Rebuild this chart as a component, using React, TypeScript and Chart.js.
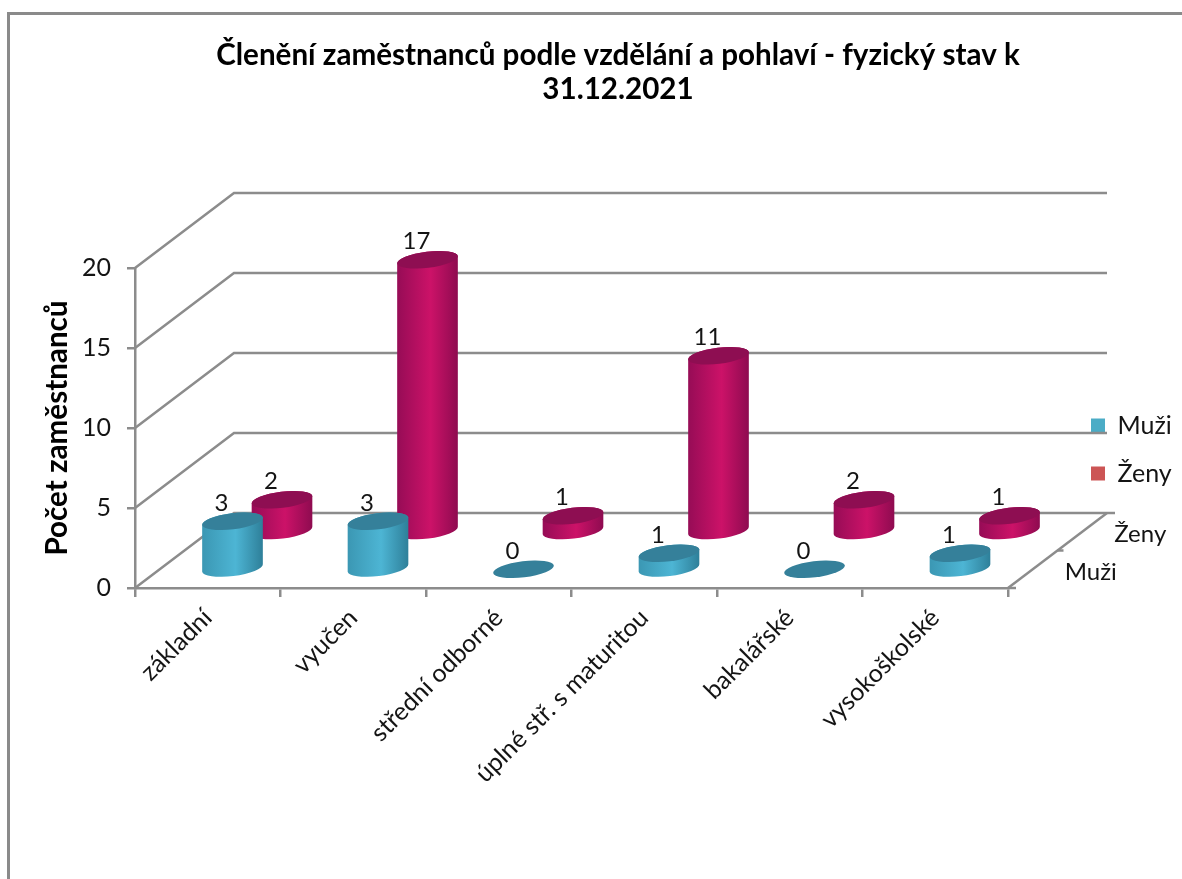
import React, { useEffect, useRef } from "react";
import { Chart, registerables } from "chart.js";

Chart.register(...registerables);

const titleLines = ["Členění zaměstnanců podle vzdělání a pohlaví - fyzický stav k", "31.12.2021"];
const yAxisTitle = "Počet zaměstnanců";
const categories = ["základní", "vyučen", "střední odborné", "úplné stř. s maturitou", "bakalářské", "vysokoškolské"];
const muzi = [3, 3, 0, 1, 0, 1];
const zeny = [2, 17, 1, 11, 2, 1];
const seriesNames = ["Muži", "Ženy"];
const legendColors = ["#4BACC6", "#CC5555"];
const sideColors = [
  ["#3B97B3", "#4DB5D4", "#2E7F99"],
  ["#960C56", "#CC1268", "#8E0B50"],
];
const topColors = ["#35809A", "#8E0E52"];
const depthFractions = [0.25, 0.75];

const GRID = "#8C8C8C";
const TEXT = "#141414";
const FONT = "Lato, Carlito, sans-serif";
const DEPTH_X = 99;
const DEPTH_Y = 75;
const RY = 8;
const TILT = (-7 * Math.PI) / 180;

function line(ctx: CanvasRenderingContext2D, pts: number[][]) {
  ctx.beginPath();
  pts.forEach((p, i) => (i ? ctx.lineTo(p[0], p[1]) : ctx.moveTo(p[0], p[1])));
  ctx.stroke();
}

const wallsPlugin = {
  id: "walls",
  beforeDatasetsDraw(chart: any) {
    const { ctx, chartArea: a, scales } = chart;
    ctx.save();
    ctx.strokeStyle = GRID;
    ctx.lineWidth = 2.5;
    scales.y.ticks.forEach((t: any) => {
      const y = scales.y.getPixelForValue(t.value);
      line(ctx, [
        [a.left, y],
        [a.left + DEPTH_X, y - DEPTH_Y],
        [a.right + DEPTH_X, y - DEPTH_Y],
      ]);
    });
    line(ctx, [
      [a.right, a.bottom],
      [a.right + DEPTH_X, a.bottom - DEPTH_Y],
    ]);
    // depth axis ticks
    line(ctx, [[a.right, a.bottom], [a.right + 8, a.bottom]]);
    line(ctx, [[a.right + DEPTH_X / 2, a.bottom - DEPTH_Y / 2], [a.right + DEPTH_X / 2 + 6, a.bottom - DEPTH_Y / 2]]);
    line(ctx, [[a.right + DEPTH_X, a.bottom - DEPTH_Y], [a.right + DEPTH_X + 8, a.bottom - DEPTH_Y]]);
    // depth axis labels
    ctx.fillStyle = TEXT;
    ctx.font = `24px ${FONT}`;
    ctx.textAlign = "left";
    ctx.textBaseline = "middle";
    seriesNames.forEach((name, i) => {
      ctx.fillText(name, a.right + DEPTH_X * depthFractions[i] + 32, a.bottom - DEPTH_Y * depthFractions[i] + 3);
    });
    ctx.restore();
  },
};

function cylinder(ctx: CanvasRenderingContext2D, cx: number, top: number, base: number, rx: number, i: number) {
  if (base - top > 0.5) {
    const g = ctx.createLinearGradient(cx - rx, 0, cx + rx, 0);
    g.addColorStop(0, sideColors[i][0]);
    g.addColorStop(0.55, sideColors[i][1]);
    g.addColorStop(1, sideColors[i][2]);
    ctx.fillStyle = g;
    ctx.beginPath();
    ctx.ellipse(cx, base, rx, RY, TILT, 0, Math.PI);
    ctx.ellipse(cx, top, rx, RY, TILT, Math.PI, 2 * Math.PI);
    ctx.closePath();
    ctx.fill();
  }
  ctx.fillStyle = topColors[i];
  ctx.beginPath();
  ctx.ellipse(cx, top, rx, RY, TILT, 0, 2 * Math.PI);
  ctx.fill();
}

const cylinderPlugin = {
  id: "cylinders",
  afterDatasetsDraw(chart: any) {
    const { ctx } = chart;
    ctx.save();
    [1, 0].forEach((i) => {
      const dx = DEPTH_X * depthFractions[i];
      const dy = DEPTH_Y * depthFractions[i];
      const values = chart.data.datasets[i].data as number[];
      chart.getDatasetMeta(i).data.forEach((el: any, k: number) => {
        const cx = el.x + dx;
        const top = el.y - dy;
        cylinder(ctx, cx, top, el.base - dy, el.width / 2, i);
        ctx.fillStyle = TEXT;
        ctx.font = `24px ${FONT}`;
        ctx.textAlign = "center";
        ctx.textBaseline = "middle";
        ctx.fillText(String(values[k]), cx - 11, top - 18);
      });
    });
    ctx.restore();
  },
};

const pinPlugin = {
  id: "pin",
  afterLayout(chart: any) {
    if (chart.titleBlock) {
      chart.titleBlock.left = 54;
      chart.titleBlock.right = 1182;
    }
    if (chart.legend) {
      chart.legend.left = 1068;
      chart.legend.right = 1182;
      chart.legend.top = 390;
      chart.legend.bottom = 620;
    }
  },
};

export default function App() {
  const ref = useRef<HTMLCanvasElement>(null);
  useEffect(() => {
    const chart = new Chart(ref.current!, {
      type: "bar",
      data: {
        labels: categories,
        datasets: [
          { label: seriesNames[0], data: muzi, backgroundColor: "rgba(0,0,0,0)", borderWidth: 0 },
          { label: seriesNames[1], data: zeny, backgroundColor: "rgba(0,0,0,0)", borderWidth: 0 },
        ],
      },
      options: {
        responsive: false,
        animation: false,
        layout: { padding: { left: 40, right: 174, top: 0, bottom: 91 } },
        datasets: { bar: { grouped: false, categoryPercentage: 1, barPercentage: 0.42 } },
        plugins: {
          tooltip: { enabled: false },
          title: {
            display: true,
            text: titleLines,
            color: "#000",
            font: { family: FONT, size: 29.6, weight: "bold", lineHeight: 34 / 29.6 },
            padding: { top: 38, bottom: 162 },
          },
          legend: {
            position: "chartArea",
            align: "start",
            labels: {
              boxWidth: 14,
              boxHeight: 14,
              padding: 23,
              color: TEXT,
              font: { family: FONT, size: 25 },
              generateLabels: () =>
                seriesNames.map((text, i) => ({
                  text,
                  fillStyle: legendColors[i],
                  strokeStyle: legendColors[i],
                  lineWidth: 0,
                  datasetIndex: i,
                  fontColor: TEXT,
                })),
            },
          },
        },
        scales: {
          x: {
            offset: true,
            afterFit: (s: any) => {
              s.height = 200;
            },
            border: { color: GRID, width: 2.5 },
            grid: { offset: true, drawOnChartArea: false, color: GRID, lineWidth: 2.5, tickLength: 9 },
            ticks: {
              minRotation: 45,
              maxRotation: 45,
              autoSkip: false,
              color: TEXT,
              padding: 6,
              font: { family: FONT, size: 25 },
            },
          },
          y: {
            min: 0,
            max: 20,
            afterFit: (s: any) => {
              s.width = 95;
            },
            border: { color: GRID, width: 2.5 },
            grid: { drawOnChartArea: false, color: GRID, lineWidth: 2.5, tickLength: 8 },
            ticks: { stepSize: 5, color: TEXT, padding: 16, font: { family: FONT, size: 25 } },
            title: {
              display: true,
              text: yAxisTitle,
              color: "#000",
              padding: 0,
              font: { family: FONT, size: 29.6, weight: "bold" },
            },
          },
        },
      } as any,
      plugins: [wallsPlugin, cylinderPlugin, pinPlugin],
    } as any);
    return () => chart.destroy();
  }, []);
  return (
    <div style={{ position: "absolute", left: 0, top: 0, width: 1182, height: 879, overflow: "hidden", background: "#fff" }}>
      <div
        style={{
          position: "absolute",
          left: 7,
          top: 12,
          right: -10,
          bottom: -10,
          borderLeft: "3px solid #8A8A8A",
          borderTop: "3px solid #8A8A8A",
        }}
      />
      <canvas ref={ref} width={1182} height={879} style={{ position: "absolute", left: 0, top: 0, display: "block" }} />
    </div>
  );
}
